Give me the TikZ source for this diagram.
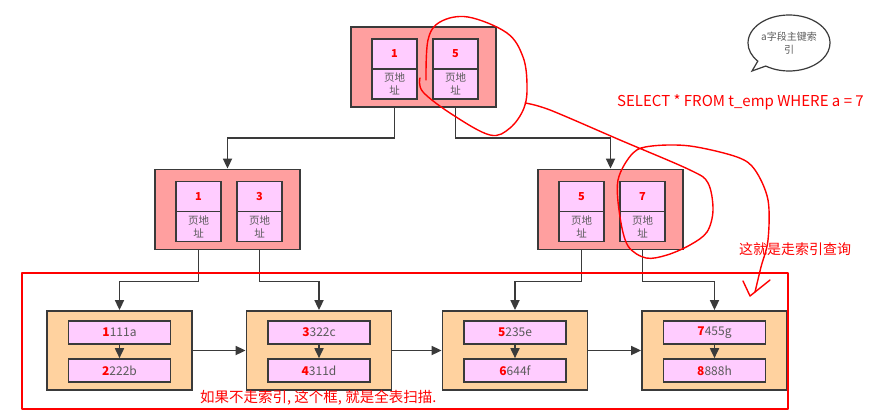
\documentclass[tikz,border=0pt]{standalone}
\usepackage{fontspec}
\setmainfont{Noto Sans CJK SC}
\usetikzlibrary{arrows.meta,shapes.callouts}
\definecolor{PageRed}{HTML}{FF9F9F}
\definecolor{CellPink}{HTML}{FFCCFF}
\definecolor{LeafPeach}{HTML}{FFD29F}
\definecolor{LineGray}{HTML}{3A3A3A}
\definecolor{TextGray}{HTML}{5A5A5A}
\definecolor{KeyRed}{HTML}{FF0000}

\begin{document}
\begin{tikzpicture}[x=1pt, y=-1pt,
  conn/.style={draw=LineGray, line width=1.7pt},
  arr/.style={conn, -{Triangle[length=10pt,width=9pt]}},
  pagebox/.style={draw=LineGray, line width=1.8pt, fill=PageRed, minimum width=145pt, minimum height=80pt, inner sep=0pt},
  leafbox/.style={draw=LineGray, line width=1.8pt, fill=LeafPeach, minimum width=145pt, minimum height=79pt, inner sep=0pt},
  keycell/.style={draw=LineGray, line width=1.6pt, fill=CellPink, minimum width=45pt, minimum height=30pt, inner sep=0pt, text=KeyRed, font=\fontsize{11}{12}\selectfont\bfseries},
  addrcell/.style={keycell, text=TextGray, align=center, font=\fontsize{10.5}{13}\selectfont},
  rowcell/.style={draw=LineGray, line width=1.6pt, fill=CellPink, minimum width=102pt, minimum height=23pt, inner sep=0pt, text=TextGray, font=\fontsize{12}{13}\selectfont},
  note/.style={text=KeyRed, anchor=west, inner sep=0pt},
  pen/.style={draw=KeyRed, line width=1.4pt, line cap=round, line join=round}]

  % Hintergrund (882 x 414)
  \fill[white] (0,0) rectangle (882,414);
  \useasboundingbox (0,0) rectangle (882,414);

  % Makro fuer eine Indexseite mit zwei Schluesseln
  % Parameter: 1=Name, 2=Mitte, 3=Schluessel links, 4=Schluessel rechts
  \def\indexpage#1#2#3#4{
    \begin{scope}[shift={(#2)}]
      \node[pagebox] (#1) at (0,0) {};
      \node[keycell] (#1ka) at (-29,-13) {#3};
      \node[addrcell] (#1pa) at (-29,17) {页地\\址};
      \node[keycell] (#1kb) at (32,-13) {#4};
      \node[addrcell] (#1pb) at (32,17) {页地\\址};
    \end{scope}
  }

  % Makro fuer eine Blattseite mit zwei Datensaetzen
  % Parameter: 1=Name, 2=Mitte, 3/4=Schluessel oben, 5/6=Schluessel unten
  \def\leafpage#1#2#3#4#5#6{
    \begin{scope}[shift={(#2)}]
      \node[leafbox] (#1) at (0,0) {};
      \node[rowcell] (#1ra) at (0,-18) {\textcolor{KeyRed}{\bfseries #3}#4};
      \node[rowcell] (#1rb) at (0,20) {\textcolor{KeyRed}{\bfseries #5}#6};
      \draw[arr] (#1ra) -- (#1rb);
    \end{scope}
  }

  % Wurzel und Zwischenebene
  \indexpage{root}{423.5,67}{1}{5}
  \indexpage{midl}{227.5,209.5}{1}{3}
  \indexpage{midr}{610.5,209.5}{5}{7}

  % Blattebene
  \leafpage{leafa}{119.5,350.5}{1}{111a}{2}{222b}
  \leafpage{leafb}{319,350.5}{3}{322c}{4}{311d}
  \leafpage{leafc}{515,350.5}{5}{235e}{6}{644f}
  \leafpage{leafd}{714.5,350.5}{7}{455g}{8}{888h}

  % Verbindungen Wurzel -> Zwischenebene
  \draw[arr] (rootpa.south |- root.south) -- ++(0,30) -| (midl.north);
  \draw[arr] (rootpb.south |- root.south) -- ++(0,30) -| (midr.north);

  % Verbindungen Zwischenebene -> Blaetter
  \draw[arr] (midlpa.south |- midl.south) -- ++(0,31) -| (leafa.north);
  \draw[arr] (midlpb.south |- midl.south) -- ++(0,31) -| (leafb.north);
  \draw[arr] (midrpa.south |- midr.south) -- ++(0,31) -| (leafc.north);
  \draw[arr] (midrpb.south |- midr.south) -- ++(0,31) -| (leafd.north);

  % Verkettung der Blaetter
  \draw[arr] (leafa) -- (leafb);
  \draw[arr] (leafb) -- (leafc);
  \draw[arr] (leafc) -- (leafd);

  % Sprechblase
  \node[ellipse callout, draw=LineGray, line width=1.2pt, fill=white,
        minimum width=82pt, minimum height=56pt, inner sep=0pt,
        callout absolute pointer={(752,71)},
        text=TextGray, align=center, font=\fontsize{10}{13}\selectfont] (bubble) at (789,43) {a字段主键索\\引};

  % Anmerkungen in Rot
  \node[note, font=\fontsize{15}{17}\selectfont] (sql) at (617,102) {SELECT * FROM t\_emp WHERE a = 7};
  \node[note, font=\fontsize{14}{16}\selectfont] (hint) at (739,249) {这就是走索引查询};
  \node[note, font=\fontsize{14.5}{16}\selectfont] (scan) at (200,398) {如果不走索引, 这个框, 就是全表扫描.};
  \draw[pen, line width=2.2pt] (22,273) rectangle (788,409);

  % Handzeichnung: Kreise und Pfeil
  \draw[pen] plot[smooth, tension=0.6] coordinates {(426,80) (428,40) (440,22) (468,17) (507,33) (523,57) (527,85) (524,108) (510,128) (490,135) (453,115) (423,92) (420,78)};
  \draw[pen] plot[smooth, tension=0.55] coordinates {(525,103) (550,110) (620,140) (690,170) (708,183) (713,210) (707,232) (690,245) (667,255) (646,258) (628,246) (620,217) (618,180) (633,153) (652,146) (690,146) (737,157) (755,170) (768,200) (768,240) (761,267) (755,292)};
  \draw[pen] (743,281) -- (750,296) -- (770,280);
\end{tikzpicture}
\end{document}
